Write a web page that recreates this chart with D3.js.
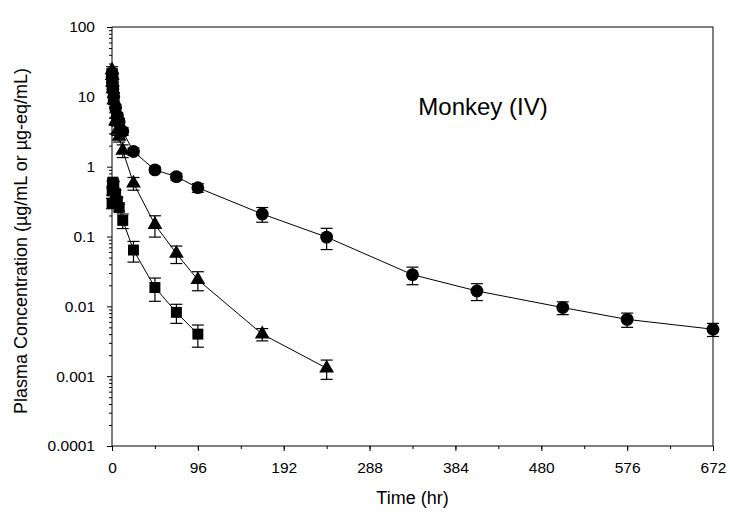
<!DOCTYPE html>
<html>
<head>
<meta charset="utf-8">
<script src="https://cdn.jsdelivr.net/npm/d3@7"></script>
<style>
  body { margin: 0; background: #fff; }
  svg { font-family: "Liberation Sans", Arial, sans-serif; }
</style>
</head>
<body>
<div id="chart"></div>
<script>
// sampling times (hr)
const times = [0.083, 0.25, 0.5, 1, 2, 4, 6, 8, 12, 24, 48, 72, 96, 168, 240, 336, 408, 504, 576, 672];

// circles - mean and SD
const circleMean = [22, 19, 16, 13, 10, 6.9, 5.3, 4.4, 3.2, 1.65, 0.9, 0.72, 0.5, 0.21, 0.098, 0.0284, 0.0166, 0.0096, 0.0065, 0.0047];
const circleSd   = [3, 2.5, 2, 1.5, 1.2, 0.8, 0.6, 0.5, 0.4, 0.2, 0.08, 0.08, 0.07, 0.05, 0.033, 0.008, 0.0045, 0.002, 0.0015, 0.001];

// triangles
const triMean = [24, 20, 16, 13, 9, 4.5, 3.3, 2.7, 1.7, 0.58, 0.148, 0.057, 0.024, 0.0040, 0.0013];
const triSd   = [3, 2.5, 2, 1.5, 1.2, 0.6, 0.5, 0.45, 0.35, 0.12, 0.05, 0.016, 0.0073, 0.0008, 0.0004];

// squares
const sqMean = [0.3, 0.45, 0.55, 0.6, 0.55, 0.41, 0.32, 0.26, 0.17, 0.064, 0.0186, 0.0082, 0.0040];
const sqSd   = [0.05, 0.06, 0.07, 0.07, 0.06, 0.05, 0.04, 0.03, 0.04, 0.021, 0.0068, 0.0025, 0.0014];

const xTicks = [0, 96, 192, 288, 384, 480, 576, 672];
const yTicks = [0.0001, 0.001, 0.01, 0.1, 1, 10, 100];

const width = 730, height = 518;
const margin = {top: 27, right: 17, bottom: 72, left: 112};
const font = "Liberation Sans, Arial, sans-serif";

const svg = d3.select("#chart").append("svg")
    .attr("width", width)
    .attr("height", height);

const x = d3.scaleLinear().domain([0, 672]).range([margin.left, width - margin.right]);
const y = d3.scaleLog().domain([0.0001, 100]).range([height - margin.bottom, margin.top]);

const series = [
    {shape: "circle", mean: circleMean, sd: circleSd},
    {shape: "triangle", mean: triMean, sd: triSd},
    {shape: "square", mean: sqMean, sd: sqSd}
].map(s => ({
    shape: s.shape,
    pts: s.mean.map((m, i) => ({t: times[i], v: m, sd: s.sd[i]}))
}));

// frame
svg.append("rect")
    .attr("x", x(0)).attr("y", y(100))
    .attr("width", x(672) - x(0)).attr("height", y(0.0001) - y(100))
    .attr("fill", "none").attr("stroke", "#000").attr("stroke-width", 1);

// x axis
const xAxis = svg.append("g")
    .attr("transform", `translate(0,${y(0.0001)})`);
xAxis.call(d3.axisBottom(x).tickValues(d3.range(0, 673, 48)).tickSize(3).tickFormat(""))
    .call(g => g.select(".domain").remove());
xAxis.append("g")
    .call(d3.axisBottom(x).tickValues(xTicks).tickSize(5).tickPadding(11).tickFormat(d3.format("d")))
    .call(g => g.select(".domain").remove())
    .selectAll("text").attr("font-size", 15.5).attr("fill", "#000").attr("font-family", font);

// y axis
const minor = [];
for (let e = -4; e < 2; e++) for (let k = 2; k <= 9; k++) minor.push(k * Math.pow(10, e));
const yAxis = svg.append("g")
    .attr("transform", `translate(${x(0)},0)`);
yAxis.call(d3.axisLeft(y).tickValues(minor).tickSize(3).tickFormat(""))
    .call(g => g.select(".domain").remove());
yAxis.append("g")
    .call(d3.axisLeft(y).tickValues(yTicks).tickSize(5).tickPadding(12).tickFormat(d => String(+d.toPrecision(1))))
    .call(g => g.select(".domain").remove())
    .selectAll("text").attr("font-size", 15.5).attr("fill", "#000").attr("font-family", font);

svg.selectAll(".tick line").attr("stroke", "#000");

// labels
svg.append("text")
    .attr("x", (x(0) + x(672)) / 2).attr("y", 504)
    .attr("text-anchor", "middle").attr("font-size", 18)
    .text("Time (hr)");

svg.append("text")
    .attr("transform", "translate(27,241) rotate(-90)")
    .attr("text-anchor", "middle").attr("font-size", 18)
    .text("Plasma Concentration (µg/mL or µg-eq/mL)");

svg.append("text")
    .attr("x", 483).attr("y", 115)
    .attr("text-anchor", "middle").attr("font-size", 24)
    .text("Monkey (IV)");

// lines
const line = d3.line().x(d => x(d.t)).y(d => y(d.v));
svg.append("g").selectAll("path")
    .data(series).join("path")
    .attr("d", d => line(d.pts))
    .attr("fill", "none").attr("stroke", "#000").attr("stroke-width", 1);

// error bars
const cap = 6;
series.forEach(s => {
    const g = svg.append("g").attr("stroke", "#000").attr("stroke-width", 1.2);
    s.pts.forEach(p => {
        const hi = p.v + p.sd, lo = Math.max(p.v - p.sd, 1e-5);
        const cx = x(p.t);
        g.append("line").attr("x1", cx).attr("x2", cx).attr("y1", y(hi)).attr("y2", y(lo));
        g.append("line").attr("x1", cx - cap).attr("x2", cx + cap).attr("y1", y(hi)).attr("y2", y(hi));
        g.append("line").attr("x1", cx - cap).attr("x2", cx + cap).attr("y1", y(lo)).attr("y2", y(lo));
    });
});

// markers
const sym = {
    circle: d3.symbol().type(d3.symbolCircle).size(130),
    triangle: d3.symbol().type(d3.symbolTriangle).size(95),
    square: d3.symbol().type(d3.symbolSquare).size(120)
};
series.forEach(s => {
    svg.append("g").selectAll("path")
        .data(s.pts).join("path")
        .attr("transform", d => `translate(${x(d.t)},${y(d.v)})`)
        .attr("d", sym[s.shape]())
        .attr("fill", "#000");
});
</script>
</body>
</html>
